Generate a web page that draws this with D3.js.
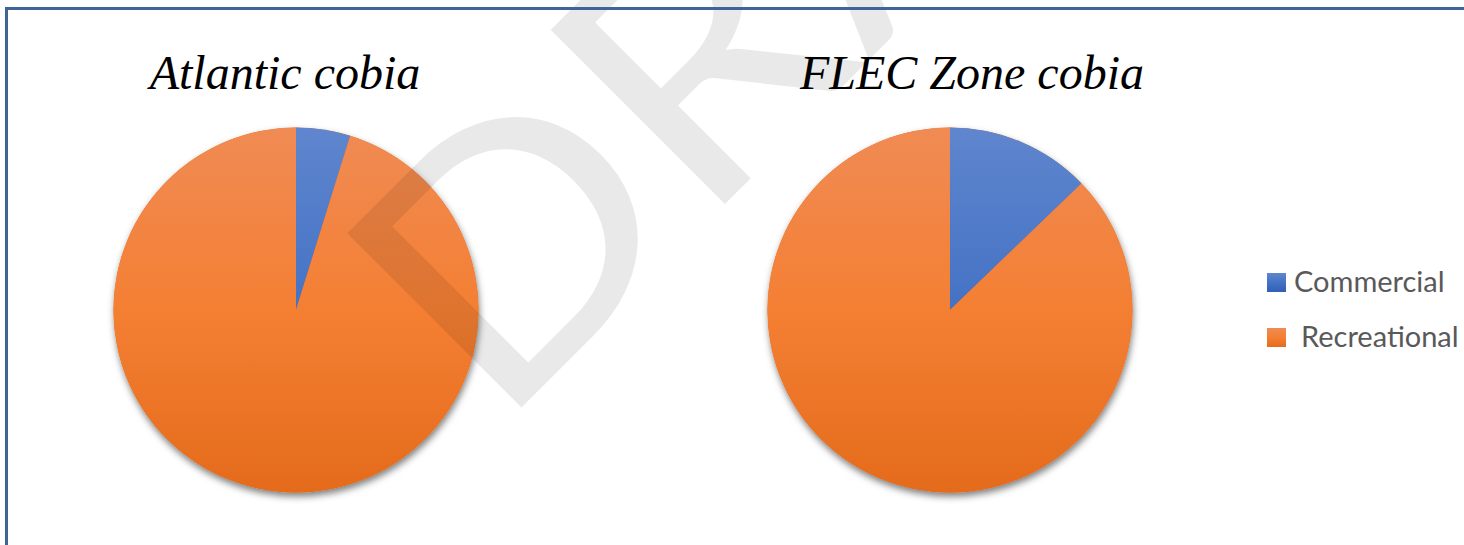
<!DOCTYPE html>
<html>
<head>
<meta charset="utf-8">
<script src="https://cdn.jsdelivr.net/npm/d3@7"></script>
<style>
  html, body { margin: 0; padding: 0; background: #ffffff; }
  svg { display: block; }
</style>
</head>
<body>
<div id="chart"></div>
<script>
// Share of landings by sector, in percent.
const categories = ["Commercial", "Recreational"];
const titles = ["Atlantic cobia", "FLEC Zone cobia"];
const commercialShare = [4.8, 12.8];
const recreationalShare = [95.2, 87.2];

const width = 1464;
const height = 545;
const radius = 182.5;
const pieY = 310;

const svg = d3.select("#chart")
  .append("svg")
  .attr("width", width)
  .attr("height", height);

const defs = svg.append("defs");

// Soft shadow below each pie.
const shadow = defs.append("filter")
  .attr("id", "pieShadow")
  .attr("x", "-10%").attr("y", "-10%")
  .attr("width", "120%").attr("height", "125%");
shadow.append("feDropShadow")
  .attr("dx", 1).attr("dy", 4)
  .attr("stdDeviation", 3.5)
  .attr("flood-color", "#000")
  .attr("flood-opacity", 0.5);

// Light-at-top, dark-at-bottom fill for each category.
const gradients = {
  Commercial: ["#5f86ce", "#4472c4", "#2f5fb8"],
  Recreational: ["#f08b54", "#f47f33", "#e46b1b"]
};
categories.forEach(c => {
  const g = defs.append("linearGradient")
    .attr("id", "grad-" + c)
    .attr("gradientUnits", "objectBoundingBox")
    .attr("x1", 0).attr("y1", 0).attr("x2", 0).attr("y2", 1);
  g.append("stop").attr("offset", "0%").attr("stop-color", gradients[c][0]);
  g.append("stop").attr("offset", "50%").attr("stop-color", gradients[c][1]);
  g.append("stop").attr("offset", "100%").attr("stop-color", gradients[c][2]);
});

// The two pies are placed on a point scale across the plot area.
const x = d3.scalePoint()
  .domain(titles)
  .range([296, 950]);

const pie = d3.pie().sort(null).value(d => d.value);
const arc = d3.arc().innerRadius(0).outerRadius(radius);

titles.forEach((t, i) => {
  const data = [
    { key: categories[0], value: commercialShare[i] },
    { key: categories[1], value: recreationalShare[i] }
  ];
  const g = svg.append("g")
    .attr("transform", `translate(${x(t)},${pieY})`);

  // Shadow disc behind the slices.
  g.append("circle")
    .attr("r", radius)
    .attr("fill", "#e46b1b")
    .attr("filter", "url(#pieShadow)");

  // Gradient spans the whole disc so the slices line up.
  categories.forEach(c => {
    const lg = defs.append("linearGradient")
      .attr("id", `pie${i}-${c}`)
      .attr("gradientUnits", "userSpaceOnUse")
      .attr("x1", 0).attr("y1", -radius).attr("x2", 0).attr("y2", radius);
    lg.append("stop").attr("offset", "0%").attr("stop-color", gradients[c][0]);
    lg.append("stop").attr("offset", "50%").attr("stop-color", gradients[c][1]);
    lg.append("stop").attr("offset", "100%").attr("stop-color", gradients[c][2]);
  });

  g.append("g").selectAll("path")
    .data(pie(data))
    .enter().append("path")
    .attr("d", arc)
    .attr("fill", d => `url(#pie${i}-${d.data.key})`);

  // Title above each pie.
  svg.append("text")
    .attr("x", [285, 972][i])
    .attr("y", 89)
    .attr("text-anchor", "middle")
    .attr("font-family", "'Liberation Serif', 'Times New Roman', serif")
    .attr("font-style", "italic")
    .attr("font-size", "48px")
    .attr("fill", "#000")
    .text(t);
});

// Legend on the right.
const legend = svg.append("g")
  .attr("transform", "translate(1267,273)");
const item = legend.selectAll("g")
  .data(categories)
  .enter().append("g")
  .attr("transform", (d, i) => `translate(0,${i * 55})`);
item.append("rect")
  .attr("width", 19)
  .attr("height", 19)
  .attr("fill", d => `url(#grad-${d})`);
item.append("text")
  .attr("x", (d, i) => i === 0 ? 27 : 34)
  .attr("y", 19)
  .attr("font-family", "Lato, 'Open Sans', sans-serif")
  .attr("font-size", "29px")
  .attr("fill", "#595959")
  .text(d => d);

// "DRAFT" watermark laid over everything.
svg.append("text")
  .attr("transform", "translate(497,432) rotate(-45) scale(1.1,1)")
  .attr("font-family", "Lato, 'Open Sans', sans-serif")
  .attr("font-weight", 400)
  .attr("font-size", "344px")
  .attr("fill", "#000")
  .attr("fill-opacity", 0.085)
  .text("DRAFT");

// Frame: only the top and left edges fall inside the picture.
svg.append("rect")
  .attr("x", 6.5)
  .attr("y", 8.5)
  .attr("width", width + 20)
  .attr("height", height + 20)
  .attr("fill", "none")
  .attr("stroke", "#3f6594")
  .attr("stroke-width", 3);
</script>
</body>
</html>
